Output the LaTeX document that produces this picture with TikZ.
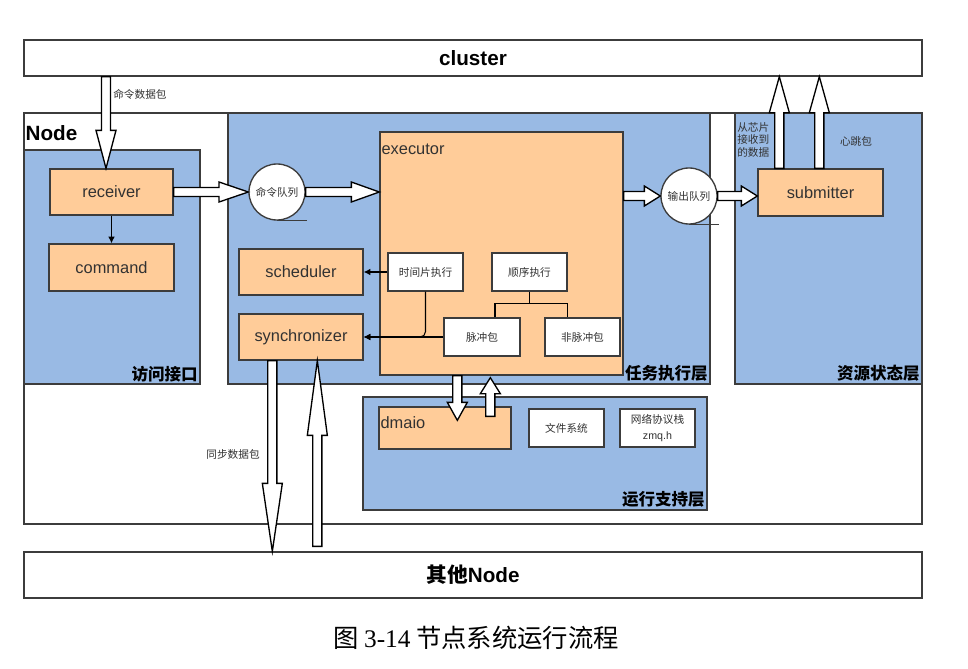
\documentclass[tikz,border=0pt]{standalone}
\usepackage{fontspec}
\setmainfont{Liberation Sans}
\newfontfamily\cjk{Noto Sans CJK SC}
\newfontfamily\serif{Liberation Serif}
\usetikzlibrary{calc,arrows.meta}
\definecolor{lblue}{RGB}{153,186,228}
\definecolor{lorange}{RGB}{255,204,153}
\definecolor{bord}{RGB}{60,60,60}
\definecolor{txt}{RGB}{50,50,50}
\tikzset{
 outerbox/.style={draw=bord, fill=white, line width=1pt, inner sep=0pt},
 layer/.style={draw=bord, fill=lblue, line width=1pt, inner sep=0pt},
 obox/.style={draw=bord, fill=lorange, line width=1pt, inner sep=0pt, text=txt, font=\fontsize{12.3}{14}\selectfont},
 wbox/.style={draw=bord, fill=white, line width=1pt, inner sep=0pt, text=txt, font=\cjk\fontsize{8}{10}\selectfont},
 queue/.style={circle, draw=bord, fill=white, line width=1pt, minimum size=42pt, inner sep=0pt, text=txt, font=\cjk\fontsize{8}{10}\selectfont},
 small/.style={inner sep=0pt, text=txt, font=\cjk\fontsize{8}{10}\selectfont},
 laylabel/.style={anchor=south east, inner sep=2pt, font=\cjk\bfseries\fontsize{12.4}{14}\selectfont},
 conn/.style={draw=black, line width=0.8pt, -{Latex[length=5pt,width=5pt]}},
 plainline/.style={draw=black, line width=0.8pt},
 blockarr/.style={draw=black, fill=white, line width=1pt, line join=miter},
 tapeline/.style={draw=bord, line width=1pt},
}
% box from pixel corners (x1,y1)-(x2,y2)
\newcommand\bx[7][]{\node[#1, minimum width={0.75pt*(#5-#3)}, minimum height={0.75pt*(#6-#4)}] (#2) at ({(#3+#5)/2},{(#4+#6)/2}) {#7};}
\newcommand\hollowarr[3]{%
 \path #1 coordinate (ha) #2 coordinate (hb);
 \path ($(hb)!#3!(ha)$) coordinate (hh);
 \draw[blockarr] ($(ha)!3.4pt!90:(hb)$) -- ($(hh)!3.4pt!90:(hb)$) -- ($(hh)!7.5pt!90:(hb)$) -- (hb) -- ($(hh)!7.5pt!-90:(hb)$) -- ($(hh)!3.4pt!-90:(hb)$) -- ($(ha)!3.4pt!-90:(hb)$) -- cycle;}
\begin{document}
\begin{tikzpicture}[x=0.75pt,y=-0.75pt]
\useasboundingbox (0,0) rectangle (968,668);
% outer boxes
\bx[outerbox, font=\bfseries\fontsize{15.5}{18}\selectfont]{cluster}{24}{40}{922}{76}{cluster}
\bx[outerbox]{node}{24}{113}{922}{524}{}
\node[anchor=west, inner sep=0pt, font=\bfseries\fontsize{15.5}{18}\selectfont] (nodelbl) at ($(node.north west)+(2,21)$) {Node};
\bx[outerbox, font=\bfseries\fontsize{15.5}{18}\selectfont]{other}{24}{552}{922}{598}{{\cjk\bfseries 其他}Node}
% layers
\bx[layer]{l1}{24}{150}{200}{384}{}
\node[laylabel] (l1t) at (l1.south east) {访问接口};
\bx[layer]{l2}{228}{113}{710}{384}{}
\node[laylabel] (l2t) at (l2.south east) {任务执行层};
\bx[layer]{l3}{735}{113}{922}{384}{}
\node[laylabel] (l3t) at (l3.south east) {资源状态层};
\bx[layer]{l4}{363}{397}{707}{510}{}
\node[laylabel] (l4t) at (l4.south east) {运行支持层};
% inner boxes
\bx[obox]{rcv}{50}{169}{173}{215}{receiver}
\bx[obox]{cmd}{49}{244}{174}{291}{command}
\bx[obox]{exec}{380}{132}{623}{375}{}
\node[anchor=west, inner sep=0pt, text=txt, font=\fontsize{12.3}{14}\selectfont] (execlbl) at ($(exec.north west)+(2,18)$) {executor};
\bx[obox]{sched}{239}{249}{363}{295}{scheduler}
\bx[obox]{sync}{239}{314}{363}{360}{synchronizer}
\bx[wbox]{ts}{388}{253}{463}{291}{时间片执行}
\bx[wbox]{seq}{492}{253}{567}{291}{顺序执行}
\bx[wbox]{pulse}{444}{318}{520}{356}{脉冲包}
\bx[wbox]{npulse}{545}{318}{620}{356}{非脉冲包}
\bx[obox]{sub}{758}{169}{883}{216}{submitter}
\bx[obox]{dmaio}{379}{407}{511}{449}{}
\node[anchor=west, inner sep=0pt, text=txt, font=\fontsize{12.3}{14}\selectfont] (dmaiolbl) at ($(dmaio.north west)+(2,16)$) {dmaio};
\bx[wbox]{fs}{529}{409}{604}{447}{文件系统}
\bx[wbox, align=center, font=\fontsize{8}{12.5}\selectfont]{net}{620}{409}{695}{447}{{\cjk 网络协议栈}\\zmq.h}
% queues
\node[queue] (cq) at (277,192) {命令队列};
\draw[tapeline] (cq.south) -- ++(30,0);
\node[queue] (oq) at (689,196) {输出队列};
\draw[tapeline] (oq.south) -- ++(30,0);
% small labels
\node[small, anchor=west] (lcmdpkt) at (113,94) {命令数据包};
\node[small] (lsync) at (233,454) {同步数据包};
\node[small, anchor=north west, align=left, font=\cjk\fontsize{8}{9.4}\selectfont] (lchip) at (737,122) {从芯片\\接收到\\的数据};
\node[small] (lheart) at (856,141) {心跳包};
% thin connectors
\draw[conn] (rcv) -- (cmd);
\draw[conn] (ts) -- (sched);
\draw[conn] (pulse) -- (sync);
\draw[conn, rounded corners=4pt] (ts.south) |- (sync.east);
\coordinate (tj) at ($(seq.south)+(0,12)$);
\coordinate (pj) at ($(pulse.north)+(13,0)$);
\coordinate (nj) at ($(npulse.north)+(-15,0)$);
\draw[plainline] (seq.south) -- (tj);
\draw[plainline] (pj) |- (tj) -| (nj);
% hollow block arrows
\coordinate (a1e) at ($(rcv.north)+(-5.5,0)$);
\coordinate (a1s) at (a1e |- cluster.south);
\hollowarr{(a1s)}{(a1e)}{28.5pt}
\hollowarr{(rcv.east)}{(cq.west)}{22pt}
\coordinate (a2e) at (cq.east -| exec.west);
\hollowarr{(cq.east)}{(a2e)}{21pt}
\coordinate (a3s) at (oq.west -| exec.east);
\hollowarr{(a3s)}{(oq.west)}{12pt}
\coordinate (a4e) at (oq.east -| sub.west);
\hollowarr{(oq.east)}{(a4e)}{12pt}
\coordinate (u1s) at ($(sub.north west)+(22,0)$);
\coordinate (u1e) at (u1s |- cluster.south);
\hollowarr{(u1s)}{(u1e)}{27pt}
\coordinate (u2s) at ($(sub.north west)+(62,0)$);
\coordinate (u2e) at (u2s |- cluster.south);
\hollowarr{(u2s)}{(u2e)}{27pt}
\coordinate (d1s) at ($(exec.south west)+(78,0)$);
\coordinate (d1e) at ($(d1s |- dmaio.north)+(0,14)$);
\hollowarr{(d1s)}{(d1e)}{13.5pt}
\coordinate (d2s) at ($(dmaio.north west)+(112,10)$);
\coordinate (d2e) at ($(d2s |- exec.south)+(0,2)$);
\hollowarr{(d2s)}{(d2e)}{12pt}
\coordinate (s1s) at ($(sync.south west)+(34,0)$);
\coordinate (s1e) at (s1s |- other.north);
\hollowarr{(s1s)}{(s1e)}{51pt}
\coordinate (s2e) at ($(sync.south west)+(79,0)$);
\coordinate (s2s) at ($(s2e |- other.north)+(0,-5)$);
\hollowarr{(s2s)}{(s2e)}{56pt}
% caption
\node[inner sep=0pt, font=\cjk\fontsize{19}{22}\selectfont] (cap) at (476,638) {图~{\serif 3-14}~节点系统运行流程};
\end{tikzpicture}
\end{document}
